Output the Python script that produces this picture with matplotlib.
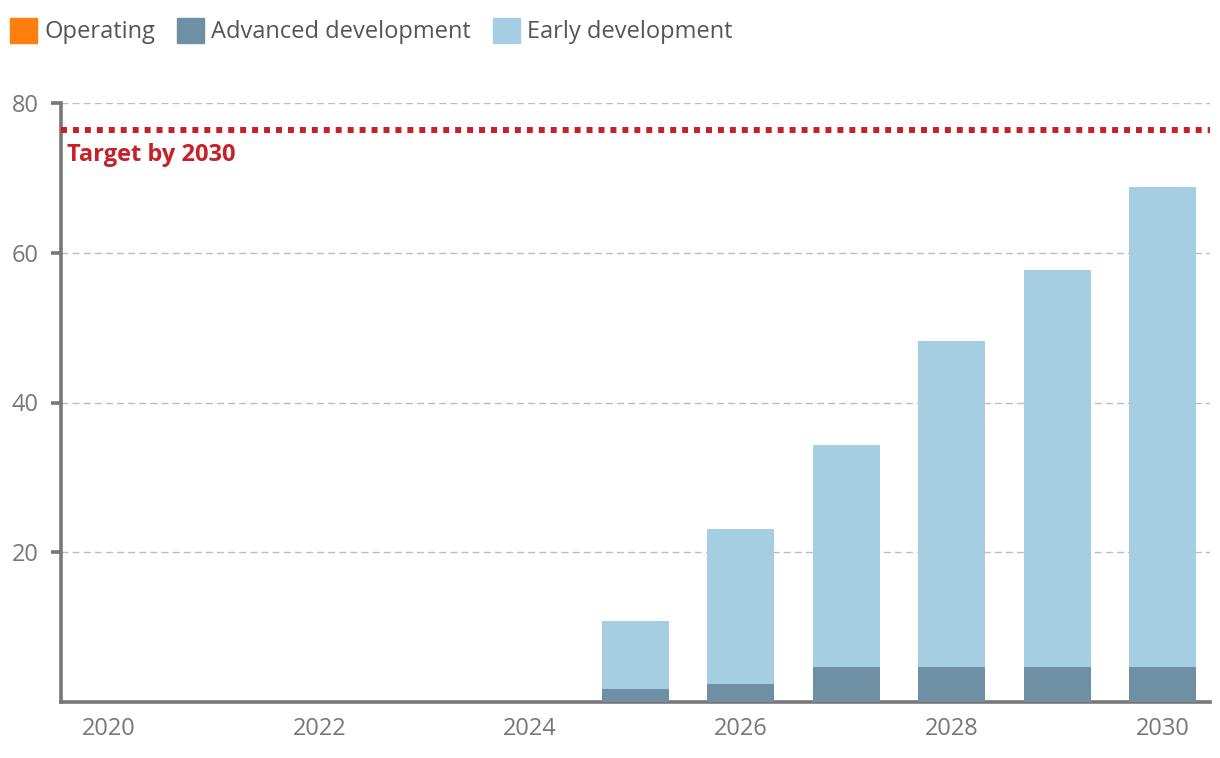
import matplotlib
matplotlib.use("Agg")
import matplotlib.pyplot as plt
from matplotlib.patches import Patch
import numpy as np

years = [2020, 2021, 2022, 2023, 2024, 2025, 2026, 2027, 2028, 2029, 2030]
operating = [0, 0, 0, 0, 0, 0, 0, 0, 0, 0, 0]
advanced = [0, 0, 0, 0, 0, 1.7, 2.4, 4.7, 4.7, 4.7, 4.7]
total = [0, 0, 0, 0, 0, 10.8, 23.1, 34.3, 48.2, 57.7, 68.8]
early = [t - a - o for t, a, o in zip(total, advanced, operating)]
target = 76.4
series_names = ["Operating", "Advanced development", "Early development"]
colors = ["#ff7f0e", "#6f8fa5", "#a6cee2"]

plt.rcParams["font.family"] = ["Open Sans", "DejaVu Sans"]

fig = plt.figure(figsize=(12.2, 7.58), dpi=100)
ax = fig.add_axes([61 / 1220, 1 - 702 / 758, (1210 - 61) / 1220, (702 - 103) / 758])

x = np.array(years)
w = 0.636
ax.bar(x, operating, w, color=colors[0], zorder=3)
ax.bar(x, advanced, w, bottom=operating, color=colors[1], zorder=3)
ax.bar(x, early, w, bottom=np.array(operating) + np.array(advanced), color=colors[2], zorder=3)

ax.set_xlim(2019.549, 2030.451)
ax.set_ylim(0, 80)

# target line
ax.axhline(target, color="#c8202a", lw=4.3, linestyle=(0, (1, 1)),
           dash_capstyle="butt", zorder=4)
ax.text(2019.605, target - 3.3, "Target by 2030", color="#c8202a", fontsize=17,
        fontweight="bold", va="center", ha="left")

ax.set_yticks([20, 40, 60, 80])
ax.set_xticks([2020, 2022, 2024, 2026, 2028, 2030])
ax.yaxis.grid(True, color="#b5bec6", lw=1, linestyle=(0, (5, 3)), zorder=0)
for s in ["top", "right"]:
    ax.spines[s].set_visible(False)
for s in ["left", "bottom"]:
    ax.spines[s].set_color("#777777")
    ax.spines[s].set_linewidth(2.6)
ax.tick_params(axis="y", length=7, width=2.6, color="#777777", pad=9,
               labelsize=17, labelcolor="#777777")
ax.tick_params(axis="x", length=0, pad=11, labelsize=17, labelcolor="#777777")

handles = [Patch(color=c, label=n) for c, n in zip(colors, series_names)]
fig.legend(handles=handles, loc="center left", bbox_to_anchor=(3 / 1220, 1 - 31 / 758), ncol=3,
           frameon=False, fontsize=17, handlelength=1.15, handleheight=1.3,
           handletextpad=0.3, columnspacing=0.93, borderaxespad=0.0, borderpad=0.3,
           labelcolor="#555555")

fig.savefig("out.png", dpi=100)
